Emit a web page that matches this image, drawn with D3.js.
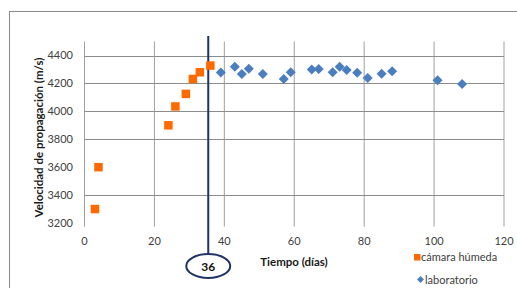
<!DOCTYPE html>
<html>
<head>
<meta charset="utf-8">
<script src="https://cdn.jsdelivr.net/npm/d3@7"></script>
<style>
  html, body { margin: 0; padding: 0; background: #fff; }
  svg { display: block; font-family: Lato, "Open Sans", sans-serif; }
</style>
</head>
<body>
<svg id="chart" width="517" height="288"></svg>
<script>
// cámara húmeda (orange squares)
const camaraDias = [3, 4, 24, 26, 29, 31, 33, 36]
const camaraVel = [3300, 3600, 3900, 4035, 4125, 4232, 4280, 4328]
// laboratorio (blue diamonds)
const labDias = [39, 43, 45, 47, 51, 57, 59, 65, 67, 71, 73, 75, 78, 81, 85, 88, 101, 108]
const labVel = [4278, 4320, 4268, 4305, 4268, 4232, 4280, 4300, 4304, 4280, 4320, 4296, 4277, 4238, 4270, 4287, 4222, 4196]

const xTicks = [0, 20, 40, 60, 80, 100, 120]
const yTicks = [3200, 3400, 3600, 3800, 4000, 4200, 4400]
const yGrid = [3400, 3800, 4000, 4200, 4400]
const marcaDia = 36

const svg = d3.select("#chart")

const x = d3.scaleLinear().domain([0, 120]).range([84.5, 504])
const y = d3.scaleLinear().domain([3200, 4400]).range([223, 55.5])

// outer chart frame
svg.append("rect")
    .attr("x", 9.5).attr("y", 11.5)
    .attr("width", 530).attr("height", 300)
    .attr("fill", "none")
    .attr("stroke", "#8c8c8c")

// vertical gridlines
svg.append("g")
  .selectAll("line")
  .data(xTicks)
  .join("line")
    .attr("x1", d => x(d)).attr("x2", d => x(d))
    .attr("y1", y(4500)).attr("y2", y(3175))
    .attr("stroke", d => d === 120 ? "#d0d0d0" : "#a0a0a0")
    .attr("stroke-width", d => d === 120 ? 2 : 1)

// horizontal gridlines
svg.append("g")
  .selectAll("line")
  .data(yGrid)
  .join("line")
    .attr("x1", x(0)).attr("x2", x(120))
    .attr("y1", d => Math.round(y(d)) + 0.5).attr("y2", d => Math.round(y(d)) + 0.5)
    .attr("stroke", "#8c8c8c")

// y tick labels
svg.append("g")
    .attr("font-size", 11)
    .attr("fill", "#404040")
    .attr("text-anchor", "end")
  .selectAll("text")
  .data(yTicks)
  .join("text")
    .attr("x", 73)
    .attr("y", d => y(d))
    .attr("dy", "0.35em")
    .text(d => d)

// x tick labels
svg.append("g")
    .attr("font-size", 11)
    .attr("fill", "#404040")
    .attr("text-anchor", "middle")
  .selectAll("text")
  .data(xTicks)
  .join("text")
    .attr("x", d => x(d))
    .attr("y", 241)
    .attr("dy", "0.35em")
    .text(d => d)

// axis titles
svg.append("text")
    .attr("transform", `translate(39,${(48 + 227) / 2}) rotate(-90)`)
    .attr("text-anchor", "middle")
    .attr("dy", "0.35em")
    .attr("font-size", 11.5)
    .attr("font-weight", "bold")
    .attr("fill", "#1a1a1a")
    .text("Velocidad de propagación (m/s)")

svg.append("text")
    .attr("x", 294).attr("y", 262)
    .attr("dy", "0.35em")
    .attr("text-anchor", "middle")
    .attr("font-size", 11.5)
    .attr("font-weight", "bold")
    .attr("fill", "#1a1a1a")
    .text("Tiempo (días)")

// 36 days marker line and ellipse
svg.append("line")
    .attr("x1", x(35.4)).attr("x2", x(35.4))
    .attr("y1", 36).attr("y2", 254)
    .attr("stroke", "#1f3368")
    .attr("stroke-width", 2)

svg.append("ellipse")
    .attr("cx", x(35.4)).attr("cy", 266)
    .attr("rx", 22).attr("ry", 12)
    .attr("fill", "#fff")
    .attr("stroke", "#1f3368")
    .attr("stroke-width", 2)

svg.append("text")
    .attr("x", x(35.4)).attr("y", 267)
    .attr("dy", "0.35em")
    .attr("text-anchor", "middle")
    .attr("font-size", 12)
    .attr("font-weight", "bold")
    .attr("fill", "#111")
    .text(marcaDia)

// points
const camara = camaraDias.map((d, i) => ({ dia: d, vel: camaraVel[i] }))
const lab = labDias.map((d, i) => ({ dia: d, vel: labVel[i] }))

const diamond = "M0,-5L5,0L0,5L-5,0Z"

svg.append("g")
    .attr("fill", "#4a7ebf")
  .selectAll("path")
  .data(lab)
  .join("path")
    .attr("transform", d => `translate(${x(d.dia)},${y(d.vel)})`)
    .attr("d", diamond)

svg.append("g")
    .attr("fill", "#ff6a00")
  .selectAll("rect")
  .data(camara)
  .join("rect")
    .attr("x", d => x(d.dia) - 4.25)
    .attr("y", d => y(d.vel) - 4.25)
    .attr("width", 8.5)
    .attr("height", 8.5)

// legend
const legend = svg.append("g")
    .attr("font-size", 11)
    .attr("fill", "#404040")

legend.append("rect")
    .attr("x", 414).attr("y", 254)
    .attr("width", 6.5).attr("height", 6.5)
    .attr("fill", "#ff6a00")
legend.append("text")
    .attr("x", 421).attr("y", 257.5)
    .attr("dy", "0.35em")
    .text("cámara húmeda")

legend.append("path")
    .attr("transform", "translate(420.5,279.5)")
    .attr("d", "M0,-3.5L3.5,0L0,3.5L-3.5,0Z")
    .attr("fill", "#4a7ebf")
legend.append("text")
    .attr("x", 425).attr("y", 280)
    .attr("dy", "0.35em")
    .text("laboratorio")
</script>
</body>
</html>
